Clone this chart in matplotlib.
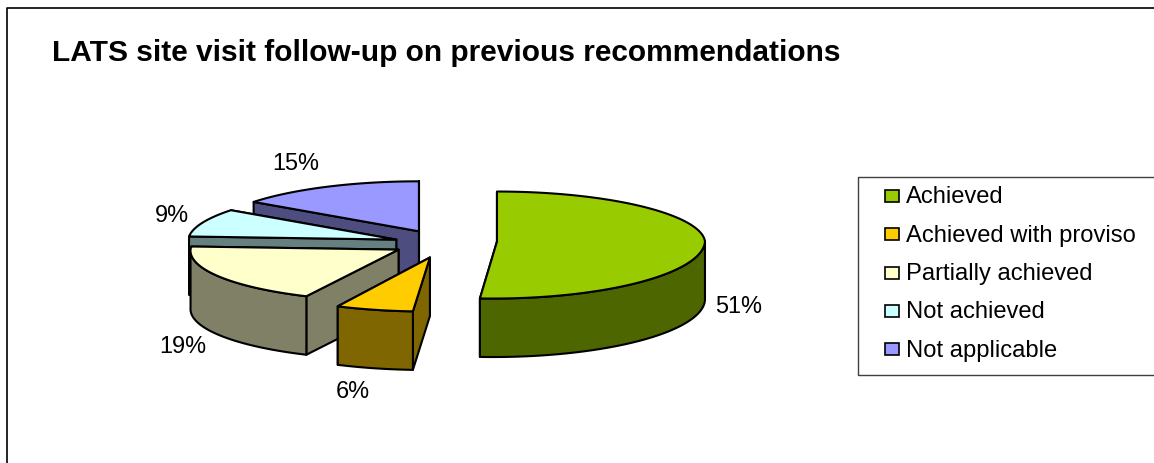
import numpy as np
import matplotlib
matplotlib.use('Agg')
import matplotlib.pyplot as plt
from matplotlib.patches import Polygon, Rectangle

plt.rcParams['font.family'] = ['Liberation Sans', 'DejaVu Sans']

title = 'LATS site visit follow-up on previous recommendations'
categories = ['Achieved', 'Achieved with proviso', 'Partially achieved', 'Not achieved', 'Not applicable']
values = [51, 6, 19, 9, 15]
top_colors = ['#99CC00', '#FFCC00', '#FFFFCC', '#CCFFFF', '#9999FF']
side_colors = ['#4D6600', '#806600', '#808066', '#668080', '#4D4D80']
explode = [53.7, 53.7, 52, 50, 53.7]
front_ry = [57, 54, 51.5, 52, 52]
label_pos = [(739, 307), (353, 392), (183, 347), (172, 216), (296, 164)]

# pie geometry, in pixels
CX, CY = 443.3, 242
RX, RY_BACK = 208, 50
DEPTH = 58.5


def project(theta, ry_front, cx=0.0, cy=0.0):
    # theta is clockwise from 12 o'clock; the near half is deeper and leans left,
    # the far half narrows slightly
    c = np.cos(theta)
    s = np.sin(theta)
    x = np.where(c > 0, RX * s * (1 - 0.03 * c), RX * s + 4 * c)
    y = np.where(c > 0, -RY_BACK * c, -ry_front * c)
    return np.column_stack([cx + x, cy + y])


def draw_slice(ax, t0, t1, top, side, offset, ry_front, z):
    mid = (t0 + t1) / 2
    c = np.cos(mid)
    cx = CX + offset * np.sin(mid)
    cy = CY - 12.2 * c ** 2 if c > 0 else CY - 17 * c
    apex = np.array([cx, cy])
    down = np.array([0, DEPTH])
    style = dict(edgecolor='black', linewidth=1.5, joinstyle='round')

    # cut faces, the one further back first
    rims = sorted([t0, t1], key=lambda t: project(np.array([t]), ry_front, cx, cy)[0, 1])
    for t in rims:
        p = project(np.array([t]), ry_front, cx, cy)[0]
        ax.add_patch(Polygon([apex, p, p + down, apex + down], facecolor=side, zorder=z, **style))

    # outer wall, only the part facing the viewer
    a, b = max(t0, np.pi / 2), min(t1, 3 * np.pi / 2)
    if b > a:
        rim = project(np.linspace(a, b, 100), ry_front, cx, cy)
        ax.add_patch(Polygon(np.vstack([rim, (rim + down)[::-1]]), facecolor=side, zorder=z, **style))

    # top surface
    rim = project(np.linspace(t0, t1, 200), ry_front, cx, cy)
    ax.add_patch(Polygon(np.vstack([apex, rim]), facecolor=top, zorder=z, **style))


fig = plt.figure(figsize=(11.54, 4.64), dpi=100)
ax = fig.add_axes([0, 0, 1, 1])
ax.set_xlim(0, 1154)
ax.set_ylim(464, 0)
ax.axis('off')

# chart border, the right and bottom sides run off the image
ax.plot([7, 7, 1154], [464, 8.5, 8.5], color='black', lw=1.2)

ax.text(52, 53, title, fontsize=21.55, fontweight='bold', va='center', ha='left', color='black')

angles = 2 * np.pi * np.concatenate([[0], np.cumsum(values)]) / sum(values)

# back slices first so the nearer ones paint over them
for z, i in enumerate([4, 3, 2, 1, 0]):
    draw_slice(ax, angles[i], angles[i + 1], top_colors[i], side_colors[i], explode[i], front_ry[i], z + 2)

for v, (x, y) in zip(values, label_pos):
    ax.text(x, y, f'{v}%', fontsize=16.9, ha='center', va='center', color='black', zorder=10)

# legend box
ax.plot([1154, 857.5, 857.5, 1154], [177.5, 177.5, 375.5, 375.5], color='#404040', lw=1)
for i, name in enumerate(categories):
    y = 196 + i * 38.3
    ax.add_patch(Rectangle((885, y - 5), 14, 12, facecolor=top_colors[i], edgecolor='black', lw=1.2))
    ax.text(906, y + 1.5, name, fontsize=17.1, va='center', ha='left', color='black')

fig.savefig('out.png', dpi=100)
